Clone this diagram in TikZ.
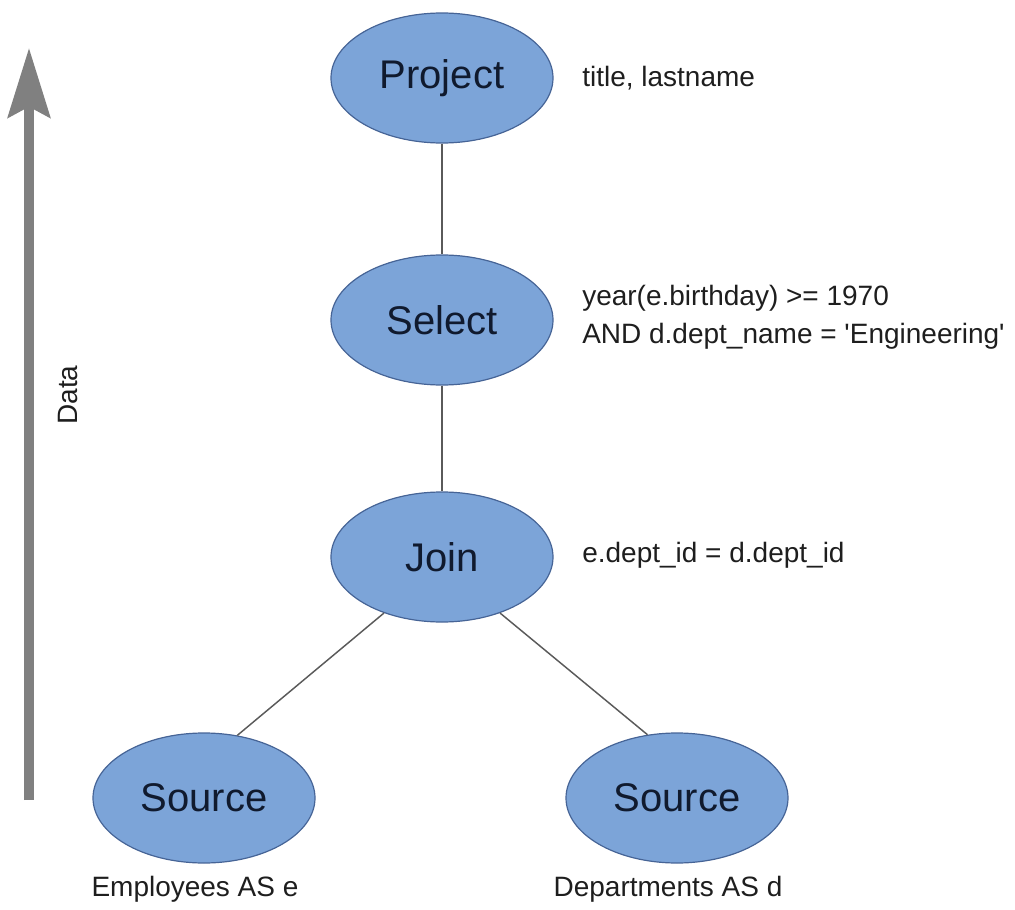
\documentclass[tikz,border=0pt]{standalone}
\usepackage{fontspec}
\setmainfont{Liberation Sans}
\usetikzlibrary{arrows.meta,shapes.geometric}
\definecolor{nodefill}{RGB}{124,164,216}
\definecolor{nodeline}{RGB}{70,100,150}
\definecolor{nodetext}{RGB}{16,26,46}
\definecolor{linecol}{RGB}{90,90,90}
\definecolor{arrowcol}{RGB}{128,128,128}
\definecolor{labelcol}{RGB}{30,30,30}
\tikzset{
  opnode/.style={ellipse, draw=nodeline, line width=0.9pt, fill=nodefill, text=nodetext,
    minimum width=166.5pt, minimum height=97.5pt, inner sep=0pt, font=\fontsize{30}{36}\selectfont},
  annot/.style={text=labelcol, font=\fontsize{21}{28.5}\selectfont, inner sep=0pt},
  conn/.style={draw=linecol, line width=1.1pt},
}
\begin{document}
\begin{tikzpicture}[x=0.75pt,y=-0.75pt]
\useasboundingbox (0,0) rectangle (1015,910);
\node[opnode] (project) at (442,78) {Project};
\node[opnode] (select) at (442,320) {Select};
\node[opnode] (join) at (442,557) {Join};
\node[opnode] (srcl) at (204,798) {Source};
\node[opnode] (srcr) at (677,798) {Source};

\node[annot, anchor=west] (lproj) at (582,78) {title, lastname};
\node[annot, anchor=west, align=left] (lsel) at (582,317) {year(e.birthday) >= 1970\\AND d.dept\_name = \textquotesingle Engineering\textquotesingle};
\node[annot, anchor=west] (ljoin) at (582,555) {e.dept\_id = d.dept\_id};
\node[annot] (lsrcl) at (195,889) {Employees AS e};
\node[annot] (lsrcr) at (668,889) {Departments AS d};

\draw[conn] (project) -- (select);
\draw[conn] (select) -- (join);
\draw[conn] (join.224) -- (srcl.62);
\draw[conn] (join.316) -- (srcr.115);

\coordinate (abot) at (29,800);
\coordinate (atop) at (29,48);
\draw[draw=arrowcol, line width=7.5pt, -{Stealth[length=52pt, width=31.5pt, inset=8pt, fill=arrowcol]}] (abot) -- (atop);
\node[annot, rotate=90] (ldata) at (68,395) {Data};
\end{tikzpicture}
\end{document}
